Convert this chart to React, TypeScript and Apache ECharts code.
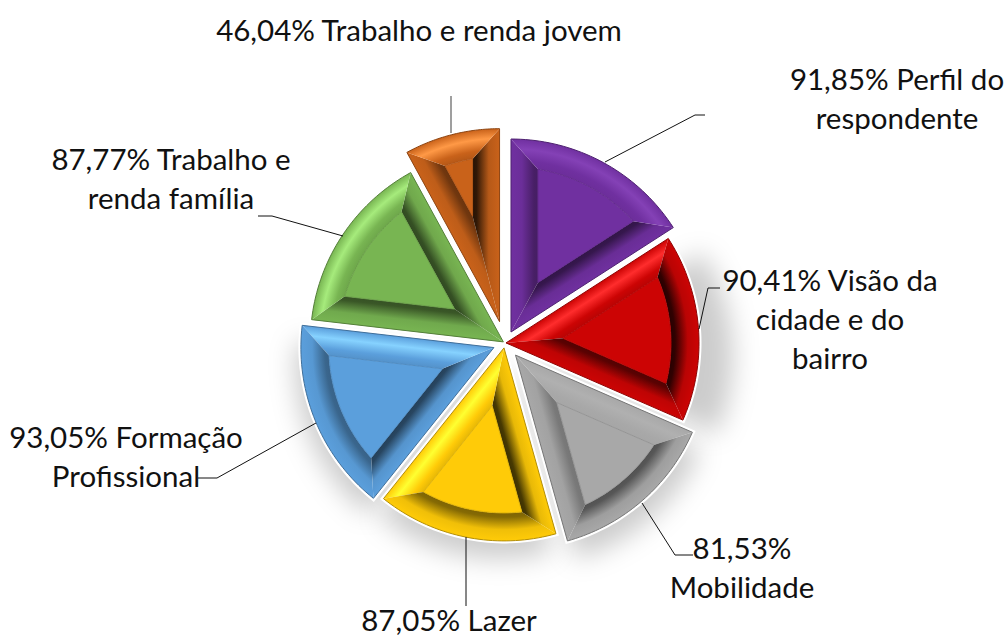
import React, { useEffect, useRef } from "react";
import * as echarts from "echarts";

const categories = ["Perfil do respondente", "Visão da cidade e do bairro", "Mobilidade", "Lazer", "Formação Profissional", "Trabalho e renda família", "Trabalho e renda jovem"];
const values = [91.85, 90.41, 81.53, 87.05, 93.05, 87.77, 46.04];
const labelTexts = ["91,85% Perfil do\nrespondente", "90,41% Visão da\ncidade e do\nbairro", "81,53%\nMobilidade", "87,05% Lazer", "93,05% Formação\nProfissional", "87,77% Trabalho e\nrenda família", "46,04% Trabalho e renda jovem"];

const colors = ["#7030a0", "#cc0404", "#a8a8a8", "#ffcb08", "#5b9fdc", "#78b552", "#c9621a"];
const explode = [12.5, 1, 16, 5, 12, 2, 22];
// shadow offset per slice, null when the slice casts no visible shadow
const shadows = [null, [34, 14], [8, 18], [-4, 18], [-6, 16], null, null];
// bevel strength per face: [start edge, arc, end edge]; + lit, - shaded
const bevel = [
  [-0.45, 0.35, -0.65],
  [1, -0.95, -0.7],
  [0.12, -0.6, -0.35],
  [-0.9, -0.6, 1],
  [-0.7, -0.45, 0.8],
  [-0.65, 0.8, -0.7],
  [-0.55, 1, -0.95],
];
const labelPos = [[897, 98], [830, 318], [742, 567], [449, 619], [126, 456], [171, 178], [419, 29]];
const leaders = [
  [[605, 162], [695, 115], [705, 115]],
  [[699, 329], [708, 288], [720, 288]],
  [[642, 503], [675, 555], [693, 555]],
  [[466, 537], [466, 606]],
  [[316, 423], [217, 478], [198, 478]],
  [[343, 236], [272, 216], [258, 216]],
  [[451, 96], [451, 133]],
];

const CX = 505, CY = 343, R = 193, RI = 165, W = 27;
const FONT = "Lato";

const hex = (c: string) => [1, 3, 5].map((i) => parseInt(c.slice(i, i + 2), 16));
const mix = (c: string, t: number[], a: number) => {
  const v = hex(c).map((x, i) => Math.round(x + (t[i] - x) * a));
  return `rgb(${v[0]},${v[1]},${v[2]})`;
};
const glow = (c: string, s: number) => {
  const v = hex(c).map((x) => Math.min(255, Math.round(x + (x * 0.15 + 40) * s)));
  return `rgb(${v[0]},${v[1]},${v[2]})`;
};
const polar = (x: number, y: number, r: number, deg: number) => {
  const a = (deg * Math.PI) / 180;
  return [x + r * Math.sin(a), y - r * Math.cos(a)];
};
const stopsFor = (base: string, s: number, outer = 0, inner = 1) => {
  const at = (t: number) => outer + (inner - outer) * t;
  if (s >= 0) {
    return [
      { offset: at(0), color: base },
      { offset: at(0.35), color: glow(base, s) },
      { offset: at(0.75), color: base },
      { offset: at(1), color: mix(base, [0, 0, 0], 0.1 * s) },
    ];
  }
  return [
    { offset: at(0), color: base },
    { offset: at(0.4), color: mix(base, [0, 0, 0], 0.1 * -s) },
    { offset: at(0.85), color: mix(base, [0, 0, 0], 0.8 * -s) },
    { offset: at(1), color: mix(base, [0, 0, 0], 0.85 * -s) },
  ];
};

export default function App() {
  const ref = useRef<HTMLDivElement>(null);
  useEffect(() => {
    const chart = echarts.init(ref.current!, undefined, { renderer: "svg" });
    const total = values.reduce((a, b) => a + b, 0);
    const startOf = (i: number) => (values.slice(0, i).reduce((a, b) => a + b, 0) / total) * 360;
    const apexOf = (i: number) => polar(CX, CY, explode[i], startOf(i) + (values[i] / total) * 180);
    const arcPoints = (i: number, sweep: number) => {
      const [ax, ay] = apexOf(i);
      const pts: number[][] = [[ax, ay]];
      for (let k = 0; k <= 40; k++) pts.push(polar(ax, ay, R, startOf(i) + (sweep * k) / 40));
      return pts;
    };

    const renderHalo = (params: any, api: any) => ({
      type: "polygon",
      silent: true,
      shape: { points: arcPoints(params.dataIndex, (api.value(0) / total) * 360) },
      style: { fill: "#ffffff", stroke: "#ffffff", lineWidth: 5, lineJoin: "miter" },
    });

    const renderItem = (params: any, api: any) => {
      const i = params.dataIndex;
      const sweep = (api.value(0) / total) * 360;
      const a1 = startOf(i), a2 = a1 + sweep, mid = (a1 + a2) / 2;
      const [ax, ay] = apexOf(i);
      const base = colors[i];
      const delta = (Math.asin(W / RI) * 180) / Math.PI;
      const half = ((sweep / 2) * Math.PI) / 180;
      const ia = polar(ax, ay, W / Math.sin(half), mid);
      const c1 = polar(ax, ay, R, a1), c2 = polar(ax, ay, R, a2);
      const i1 = polar(ax, ay, RI, a1 + delta), i2 = polar(ax, ay, RI, a2 - delta);
      const outerArc = arcPoints(i, sweep).slice(1), innerArc: number[][] = [];
      for (let k = 0; k <= 40; k++) {
        innerArc.push(polar(ax, ay, RI, a1 + delta + ((sweep - 2 * delta) * k) / 40));
      }
      const n1 = polar(ax, ay, W, a1 + 90), n2 = polar(ax, ay, W, a2 - 90);
      const grad = (to: number[], s: number) =>
        new echarts.graphic.LinearGradient(ax, ay, to[0], to[1], stopsFor(base, s), true);
      const edge = mix(base, [0, 0, 0], 0.3);
      return {
        type: "group",
        children: [
          { type: "polygon", silent: true, shape: { points: [[ax, ay], c1, i1, ia] }, style: { fill: grad(n1, bevel[i][0]) } },
          { type: "polygon", silent: true, shape: { points: [[ax, ay], c2, i2, ia] }, style: { fill: grad(n2, bevel[i][2]) } },
          {
            type: "polygon",
            silent: true,
            shape: { points: [...outerArc, ...[...innerArc].reverse()] },
            style: { fill: new echarts.graphic.RadialGradient(ax, ay, R, stopsFor(base, bevel[i][1], 1, RI / R).reverse(), true) },
          },
          { type: "polygon", silent: true, shape: { points: [ia, ...innerArc] }, style: { fill: base, stroke: mix(base, [0, 0, 0], 0.12), lineWidth: 1 } },
          { type: "polygon", silent: true, shape: { points: [[ax, ay], ...outerArc] }, style: { fill: "none", stroke: edge, lineWidth: 1 } },
        ],
      };
    };

    const pies = categories.map((_, s) => ({
      type: "pie",
      z: 1,
      center: apexOf(s),
      radius: [0, R],
      startAngle: 90,
      clockwise: true,
      silent: true,
      label: { show: false },
      labelLine: { show: false },
      data: categories.map((name, i) => {
        const off = shadows[i];
        return {
          name,
          value: values[i],
          itemStyle:
            i !== s
              ? { color: "rgba(0,0,0,0)" }
              : off
                ? { color: colors[i], shadowColor: "rgba(0,0,0,0.2)", shadowBlur: 26, shadowOffsetX: off[0], shadowOffsetY: off[1] }
                : { color: colors[i] },
        };
      }),
    }));

    chart.setOption({
      animation: false,
      backgroundColor: "#ffffff",
      series: [
        ...pies,
        { type: "custom", z: 2, coordinateSystem: "none", silent: true, data: values, renderItem: renderHalo },
        { type: "custom", z: 3, coordinateSystem: "none", silent: true, data: values, renderItem },
      ],
      graphic: [
        ...leaders.map((points, i) => ({
          type: "polyline",
          z: 5,
          silent: true,
          shape: { points },
          style: { fill: "none", stroke: i === 6 ? "#7f7f7f" : "#111111", lineWidth: i === 6 ? 1.5 : 1 },
        })),
        ...labelTexts.map((text, i) => ({
          type: "text",
          z: 6,
          silent: true,
          x: labelPos[i][0],
          y: labelPos[i][1],
          style: { text, fontFamily: FONT, fontSize: 29.5, lineHeight: 39, fill: "#111111", align: "center", verticalAlign: "middle" },
        })),
      ],
    });
    return () => chart.dispose();
  }, []);
  return <div ref={ref} style={{ position: "absolute", left: 0, top: 0, width: 1007, height: 635 }} />;
}
